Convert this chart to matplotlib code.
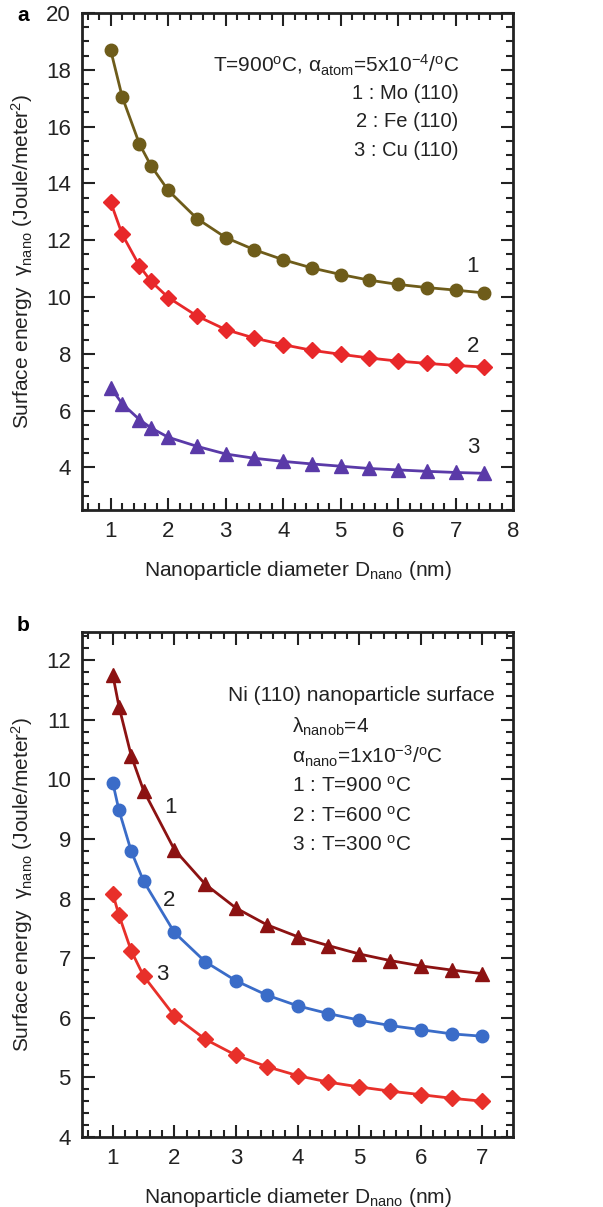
import numpy as np
import matplotlib
matplotlib.use("Agg")
import matplotlib.pyplot as plt
from matplotlib.ticker import MultipleLocator

plt.rcParams['font.family'] = ['Liberation Sans', 'DejaVu Sans']
plt.rcParams['mathtext.fontset'] = 'custom'
plt.rcParams['mathtext.rm'] = 'Liberation Sans'
plt.rcParams['mathtext.it'] = 'Liberation Sans:italic'

# ── panel a data ──
d_a = [1, 1.2, 1.5, 1.7, 2, 2.5, 3, 3.5, 4, 4.5, 5, 5.5, 6, 6.5, 7, 7.5]
mo_110 = [18.68, 17.04, 15.38, 14.62, 13.75, 12.76, 12.09, 11.66, 11.31, 11.02,
          10.79, 10.59, 10.44, 10.33, 10.24, 10.14]
fe_110 = [13.33, 12.20, 11.09, 10.55, 9.98, 9.33, 8.85, 8.55, 8.32, 8.12,
          7.98, 7.85, 7.74, 7.66, 7.59, 7.53]
cu_110 = [6.80, 6.24, 5.68, 5.39, 5.06, 4.74, 4.47, 4.32, 4.21, 4.12,
          4.04, 3.96, 3.91, 3.86, 3.82, 3.79]

# ── panel b data ──
d_b = [1, 1.1, 1.3, 1.5, 2, 2.5, 3, 3.5, 4, 4.5, 5, 5.5, 6, 6.5, 7]
ni_900 = [11.75, 11.22, 10.39, 9.81, 8.82, 8.24, 7.84, 7.56, 7.36, 7.21,
          7.07, 6.96, 6.87, 6.80, 6.74]
ni_600 = [9.94, 9.48, 8.79, 8.29, 7.43, 6.94, 6.62, 6.38, 6.20, 6.07,
          5.96, 5.87, 5.80, 5.73, 5.69]
ni_300 = [8.08, 7.72, 7.12, 6.70, 6.03, 5.64, 5.37, 5.18, 5.03, 4.92,
          4.84, 4.77, 4.71, 4.65, 4.60]

xlabel = r"Nanoparticle diameter D$_{\rm nano}$ (nm)"
ylabel = r"Surface energy  γ$_{\rm nano}$ (Joule/meter$^2$)"
TXT = "#222222"
TICK_FONT = ['Liberation Sans Narrow', 'Liberation Sans', 'DejaVu Sans']


def style_axes(ax, xminor, yminor):
    ax.xaxis.set_minor_locator(MultipleLocator(xminor))
    ax.yaxis.set_minor_locator(MultipleLocator(yminor))
    ax.tick_params(which="both", direction="in", top=True, right=True,
                   width=1.5, colors=TXT)
    ax.tick_params(which="major", length=9, pad=8)
    ax.tick_params(which="minor", length=5)
    for lab in ax.get_xticklabels() + ax.get_yticklabels():
        lab.set_family(TICK_FONT)
        lab.set_fontsize(16)
    for s in ax.spines.values():
        s.set_linewidth(2)
        s.set_color(TXT)


fig = plt.figure(figsize=(6.03, 12.07), dpi=100)

# ─────────── panel a ───────────
ax1 = fig.add_axes([0.136, 0.5775, 0.715, 0.4118])
ax1.plot(d_a, mo_110, "-o", color="#6e5c1a", lw=2, ms=9)
ax1.plot(d_a, fe_110, "-D", color="#e8282a", lw=2, ms=8)
ax1.plot(d_a, cu_110, "-^", color="#5a3aa8", lw=2, ms=9.5)
ax1.set_xlim(0.5, 8)
ax1.set_ylim(2.5, 20)
ax1.set_xticks(range(1, 9))
ax1.set_yticks(range(4, 21, 2))
style_axes(ax1, 0.2, 0.5)
ax1.set_xlabel(xlabel, fontsize=15, labelpad=12, color=TXT)
ax1.set_ylabel(ylabel, fontsize=15, labelpad=8, color=TXT)
for txt, x, y in [("1", 7.3, 11.06), ("2", 7.3, 8.24), ("3", 7.3, 4.7)]:
    ax1.text(x, y, txt, fontsize=16, ha="center", va="center", color=TXT)
ax1.text(0.875, 0.895,
         r"T=900$^{\rm o}$C, α$_{\rm atom}$=5x10$^{-4}$/$^{\rm o}$C",
         transform=ax1.transAxes, ha="right", va="center", fontsize=15,
         color=TXT)
for i, txt in enumerate(["1 : Mo (110)", "2 : Fe (110)", "3 : Cu (110)"]):
    ax1.text(0.873, 0.838 - i * 0.057, txt, transform=ax1.transAxes,
             ha="right", va="center", fontsize=14.5, color=TXT)
fig.text(0.028, 0.987, "a", fontsize=15, fontweight="bold", ha="left", va="center")

# ─────────── panel b ───────────
ax2 = fig.add_axes([0.136, 0.058, 0.715, 0.4184])
ax2.plot(d_b, ni_900, "-^", color="#8c1212", lw=2, ms=9.5)
ax2.plot(d_b, ni_600, "-o", color="#3a6cc8", lw=2, ms=9)
ax2.plot(d_b, ni_300, "-D", color="#e8302a", lw=2, ms=8)
ax2.set_xlim(0.5, 7.5)
ax2.set_ylim(4, 12.47)
ax2.set_xticks(range(1, 8))
ax2.set_yticks(range(4, 13))
style_axes(ax2, 0.2, 0.2)
ax2.set_xlabel(xlabel, fontsize=15, labelpad=12, color=TXT)
ax2.set_ylabel(ylabel, fontsize=15, labelpad=8, color=TXT)
for txt, x, y in [("1", 1.94, 9.53), ("2", 1.92, 7.97), ("3", 1.8, 6.72)]:
    ax2.text(x, y, txt, fontsize=16, ha="center", va="center", color=TXT)
ax2.text(0.339, 0.875, "Ni (110) nanoparticle surface", transform=ax2.transAxes,
         ha="left", va="center", fontsize=15, color=TXT)
b_lines = [r"λ$_{\rm nanob}$=4",
           r"α$_{\rm nano}$=1x10$^{-3}$/$^{\rm o}$C",
           r"1 : T=900 $^{\rm o}$C",
           r"2 : T=600 $^{\rm o}$C",
           r"3 : T=300 $^{\rm o}$C"]
for i, txt in enumerate(b_lines):
    ax2.text(0.487, 0.812 - i * 0.0585, txt, transform=ax2.transAxes,
             ha="left", va="center", fontsize=15, color=TXT)
fig.text(0.028, 0.482, "b", fontsize=15, fontweight="bold", ha="left", va="center")

fig.savefig("out.png", dpi=100)
